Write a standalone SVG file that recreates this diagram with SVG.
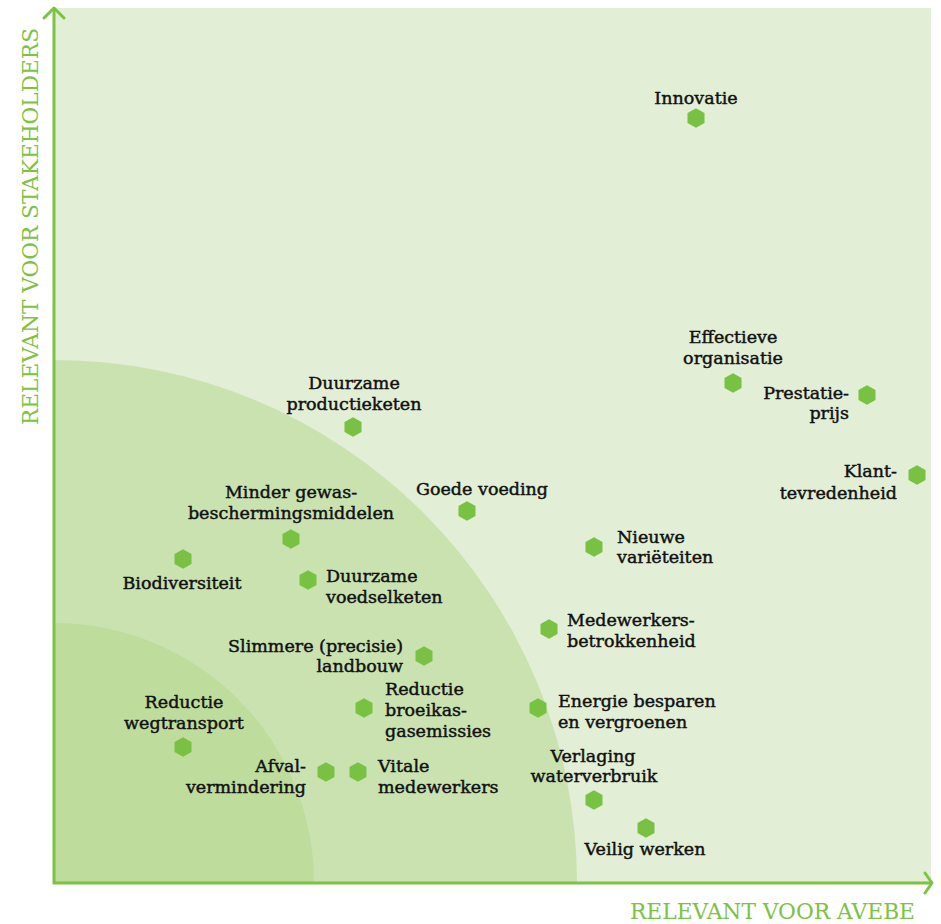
<svg xmlns="http://www.w3.org/2000/svg" xmlns:xlink="http://www.w3.org/1999/xlink" width="941" height="924" viewBox="0 0 941 924">
<style>
.lbl{font-family:"DejaVu Serif","Liberation Serif",serif;font-size:17.5px;fill:#111;stroke:#111;stroke-width:0.45px;}
.m{text-anchor:middle}
.e{text-anchor:end}
.ax{font-family:"DejaVu Serif Condensed","DejaVu Serif",serif;font-size:22px;fill:#7cc243;}
.axis{stroke:#7cc243;stroke-width:3;fill:none;}
.hx{fill:#79c143;}
</style>
<defs>
<polygon id="hex" points="0,-9.8 8.5,-4.9 8.5,4.9 0,9.8 -8.5,4.9 -8.5,-4.9"/>
</defs>
<g id="background">
<rect x="55" y="8" width="876" height="875" fill="#e2eed5"/>
<path d="M54,883 V360 A523,523 0 0 1 577,883 Z" fill="#c9e2af"/>
<path d="M54,883 V623 A260,260 0 0 1 314,883 Z" fill="#bedc9c"/>
</g>
<g id="axes">
<line class="axis" x1="54" y1="884" x2="54" y2="9"/>
<polyline class="axis" points="44,18 54,8 64,18" stroke-linecap="round" stroke-linejoin="round"/>
<line class="axis" x1="53" y1="883" x2="931" y2="883"/>
<polyline class="axis" points="925,873 932,883 925,893" stroke-linecap="round" stroke-linejoin="round"/>
<text class="ax" x="630" y="919" textLength="285" lengthAdjust="spacingAndGlyphs">RELEVANT VOOR AVEBE</text>
<text class="ax" transform="translate(38,425) rotate(-90)" x="0" y="0" textLength="397" lengthAdjust="spacingAndGlyphs">RELEVANT VOOR STAKEHOLDERS</text>
</g>
<g id="connectors"></g>
<g id="innovatie"><use href="#hex" class="hx" x="696" y="118"/><text class="lbl m" x="696" y="104">Innovatie</text></g>
<g id="effectieve-organisatie"><use href="#hex" class="hx" x="733" y="383"/><text class="lbl m" x="733" y="343">Effectieve</text><text class="lbl m" x="733" y="364">organisatie</text></g>
<g id="prestatieprijs"><use href="#hex" class="hx" x="867" y="395"/><text class="lbl e" x="849" y="399">Prestatie-</text><text class="lbl e" x="849" y="419">prijs</text></g>
<g id="klanttevredenheid"><use href="#hex" class="hx" x="917" y="475"/><text class="lbl e" x="897" y="477">Klant-</text><text class="lbl e" x="897" y="499">tevredenheid</text></g>
<g id="duurzame-productieketen"><use href="#hex" class="hx" x="353" y="427"/><text class="lbl m" x="354" y="389">Duurzame</text><text class="lbl m" x="354" y="410">productieketen</text></g>
<g id="goede-voeding"><use href="#hex" class="hx" x="467" y="511"/><text class="lbl" x="416" y="495">Goede voeding</text></g>
<g id="minder-gewasbeschermingsmiddelen"><use href="#hex" class="hx" x="291" y="539"/><text class="lbl m" x="291" y="498">Minder gewas-</text><text class="lbl m" x="291" y="519">beschermingsmiddelen</text></g>
<g id="biodiversiteit"><use href="#hex" class="hx" x="183" y="559"/><text class="lbl m" x="182" y="589">Biodiversiteit</text></g>
<g id="duurzame-voedselketen"><use href="#hex" class="hx" x="308" y="580"/><text class="lbl" x="326" y="582">Duurzame</text><text class="lbl" x="326" y="603">voedselketen</text></g>
<g id="nieuwe-varieteiten"><use href="#hex" class="hx" x="594" y="547"/><text class="lbl" x="617" y="543">Nieuwe</text><text class="lbl" x="617" y="563">variëteiten</text></g>
<g id="medewerkersbetrokkenheid"><use href="#hex" class="hx" x="549" y="629"/><text class="lbl" x="567" y="626">Medewerkers-</text><text class="lbl" x="567" y="647">betrokkenheid</text></g>
<g id="slimmere-landbouw"><use href="#hex" class="hx" x="424" y="656"/><text class="lbl e" x="403" y="652">Slimmere (precisie)</text><text class="lbl e" x="403" y="672">landbouw</text></g>
<g id="reductie-broeikasgasemissies"><use href="#hex" class="hx" x="364" y="708"/><text class="lbl" x="385" y="695">Reductie</text><text class="lbl" x="385" y="716">broeikas-</text><text class="lbl" x="385" y="737">gasemissies</text></g>
<g id="energie-besparen"><use href="#hex" class="hx" x="538" y="708"/><text class="lbl" x="558" y="707">Energie besparen</text><text class="lbl" x="558" y="728">en vergroenen</text></g>
<g id="reductie-wegtransport"><use href="#hex" class="hx" x="183" y="747"/><text class="lbl m" x="184" y="708">Reductie</text><text class="lbl m" x="184" y="729">wegtransport</text></g>
<g id="afvalvermindering"><use href="#hex" class="hx" x="326" y="772"/><text class="lbl e" x="306" y="772">Afval-</text><text class="lbl e" x="306" y="793">vermindering</text></g>
<g id="vitale-medewerkers"><use href="#hex" class="hx" x="358" y="772"/><text class="lbl" x="378" y="772">Vitale</text><text class="lbl" x="378" y="793">medewerkers</text></g>
<g id="verlaging-waterverbruik"><use href="#hex" class="hx" x="594" y="800"/><text class="lbl m" x="593" y="762">Verlaging</text><text class="lbl m" x="594" y="782">waterverbruik</text></g>
<g id="veilig-werken"><use href="#hex" class="hx" x="646" y="828"/><text class="lbl m" x="645" y="855">Veilig werken</text></g>
</svg>
